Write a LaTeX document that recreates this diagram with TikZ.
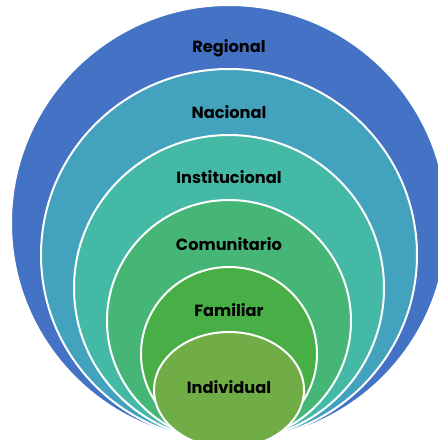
\documentclass[tikz,border=0pt]{standalone}
\usepackage{fontspec}
\setmainfont{Poppins}
\usetikzlibrary{shapes.geometric}

\definecolor{cRegional}{HTML}{4472C4}
\definecolor{cNacional}{HTML}{43A2BE}
\definecolor{cInstitucional}{HTML}{44BAA6}
\definecolor{cComunitario}{HTML}{46B676}
\definecolor{cFamiliar}{HTML}{48AF47}
\definecolor{cIndividual}{HTML}{70AD47}

\begin{document}
\begin{tikzpicture}[x=1pt,y=-1pt]

\tikzstyle{ring}=[draw=white, line width=2pt]
\tikzstyle{lbl}=[font=\bfseries\fontsize{16.2}{19}\selectfont, text=black, inner sep=0pt, anchor=base]

	\useasboundingbox (0,0) rectangle (438,440);
	\clip (0,0) rectangle (438,440);

	% nested levels, all touching at the bottom
	\filldraw[ring, fill=cRegional]      (229,223) ellipse [x radius=218, y radius=218];
	\filldraw[ring, fill=cNacional]      (229,255) ellipse [x radius=188, y radius=186];
	\filldraw[ring, fill=cInstitucional] (229,288) ellipse [x radius=155, y radius=153];
	\filldraw[ring, fill=cComunitario]   (229,321) ellipse [x radius=122, y radius=121];
	\filldraw[ring, fill=cFamiliar]      (229,354) ellipse [x radius=88,  y radius=87];
	\filldraw[ring, fill=cIndividual]    (229,390) ellipse [x radius=75,  y radius=58];

	\node[lbl] (regional)      at (229,52)  {Regional};
	\node[lbl] (nacional)      at (229,118) {Nacional};
	\node[lbl] (institucional) at (229,183) {Institucional};
	\node[lbl] (comunitario)   at (229,250) {Comunitario};
	\node[lbl] (familiar)      at (229,316) {Familiar};
	\node[lbl] (individual)    at (229,393) {Individual};
\end{tikzpicture}
\end{document}
